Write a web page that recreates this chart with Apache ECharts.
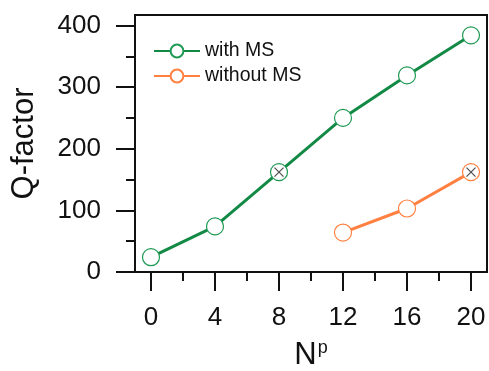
<!DOCTYPE html>
<html>
<head>
<meta charset="utf-8">
<script src="https://cdn.jsdelivr.net/npm/echarts@6/dist/echarts.min.js"></script>
<style>
  html, body { margin: 0; padding: 0; background: #fff; }
  #chart { width: 489px; height: 371px; }
</style>
</head>
<body>
<div id="chart"></div>
<script>
// data
const np = [0, 4, 8, 12, 16, 20];
const withMS = [24, 74, 162, 250, 319, 384];
const npWithout = [12, 16, 20];
const withoutMS = [64, 103, 162];
const crossX = [8, 20];
const crossY = [162, 162];

const xMajor = [0, 4, 8, 12, 16, 20];
const xMinor = [2, 6, 10, 14, 18];
const yMajor = [0, 100, 200, 300, 400];
const yMinor = [50, 150, 250, 350];

const green = '#128a45';
const orange = '#ff8040';
const font = 'Liberation Sans, Arial, sans-serif';

const chart = echarts.init(document.getElementById('chart'));

const baseX = { type: 'value', min: -1, max: 21, splitLine: { show: false } };
const baseY = { type: 'value', min: 0, max: 417, splitLine: { show: false } };

chart.setOption({
  animation: false,
  textStyle: { fontFamily: font },
  grid: {
    left: 135, top: 15, right: 2, bottom: 99,
    outerBoundsMode: 'none',
    show: true, borderColor: '#111', borderWidth: 2, backgroundColor: 'transparent'
  },
  legend: {
    orient: 'vertical',
    left: 148, top: 36,
    itemWidth: 46, itemHeight: 16, itemGap: 5,
    textStyle: { fontSize: 19.5, color: '#111', fontFamily: font },
    data: ['with MS', 'without MS']
  },
  xAxis: [
    Object.assign({}, baseX, {
      name: '{n|N}{p|p}',
      nameLocation: 'middle',
      nameGap: 67,
      nameTextStyle: {
        rich: {
          n: { fontSize: 31, color: '#111', fontFamily: font },
          p: { fontSize: 18, color: '#111', fontFamily: font, verticalAlign: 'top', padding: [0, 0, 14, 1] }
        }
      },
      axisLine: { onZero: false, lineStyle: { color: '#111', width: 2 } },
      axisTick: { customValues: xMajor, length: 19, lineStyle: { color: '#111', width: 2 } },
      axisLabel: { customValues: xMajor, fontSize: 26, color: '#111', margin: 33 }
    }),
    Object.assign({}, baseX, {
      position: 'bottom',
      axisLine: { show: false, onZero: false },
      axisTick: { customValues: xMinor, length: 9, lineStyle: { color: '#111', width: 2 } },
      axisLabel: { show: false }
    })
  ],
  yAxis: [
    Object.assign({}, baseY, {
      name: 'Q-factor',
      nameLocation: 'middle',
      nameGap: 95,
      nameTextStyle: { fontSize: 31, color: '#111', fontFamily: font },
      axisLine: { onZero: false, lineStyle: { color: '#111', width: 2 } },
      axisTick: { customValues: yMajor, length: 19, lineStyle: { color: '#111', width: 2 } },
      axisLabel: { customValues: yMajor, fontSize: 26, color: '#111', margin: 34 }
    }),
    Object.assign({}, baseY, {
      position: 'left',
      axisLine: { show: false, onZero: false },
      axisTick: { customValues: yMinor, length: 9, lineStyle: { color: '#111', width: 2 } },
      axisLabel: { show: false }
    })
  ],
  series: [
    {
      name: 'with MS',
      type: 'line',
      data: np.map((x, i) => [x, withMS[i]]),
      symbol: 'circle',
      symbolSize: 17,
      lineStyle: { color: green, width: 3 },
      itemStyle: { color: '#fff', borderColor: '#1f9a55', borderWidth: 1.2 },
      z: 3
    },
    {
      name: 'without MS',
      type: 'line',
      data: npWithout.map((x, i) => [x, withoutMS[i]]),
      symbol: 'circle',
      symbolSize: 17,
      lineStyle: { color: orange, width: 3 },
      itemStyle: { color: '#fff', borderColor: orange, borderWidth: 1.2 },
      z: 3
    },
    {
      type: 'scatter',
      data: crossX.map((x, i) => [x, crossY[i]]),
      symbol: 'path://M0,0L10,10M10,0L0,10',
      symbolSize: 9,
      itemStyle: { color: 'none', borderColor: '#222', borderWidth: 1.2 },
      silent: true,
      z: 4
    }
  ]
});
</script>
</body>
</html>
